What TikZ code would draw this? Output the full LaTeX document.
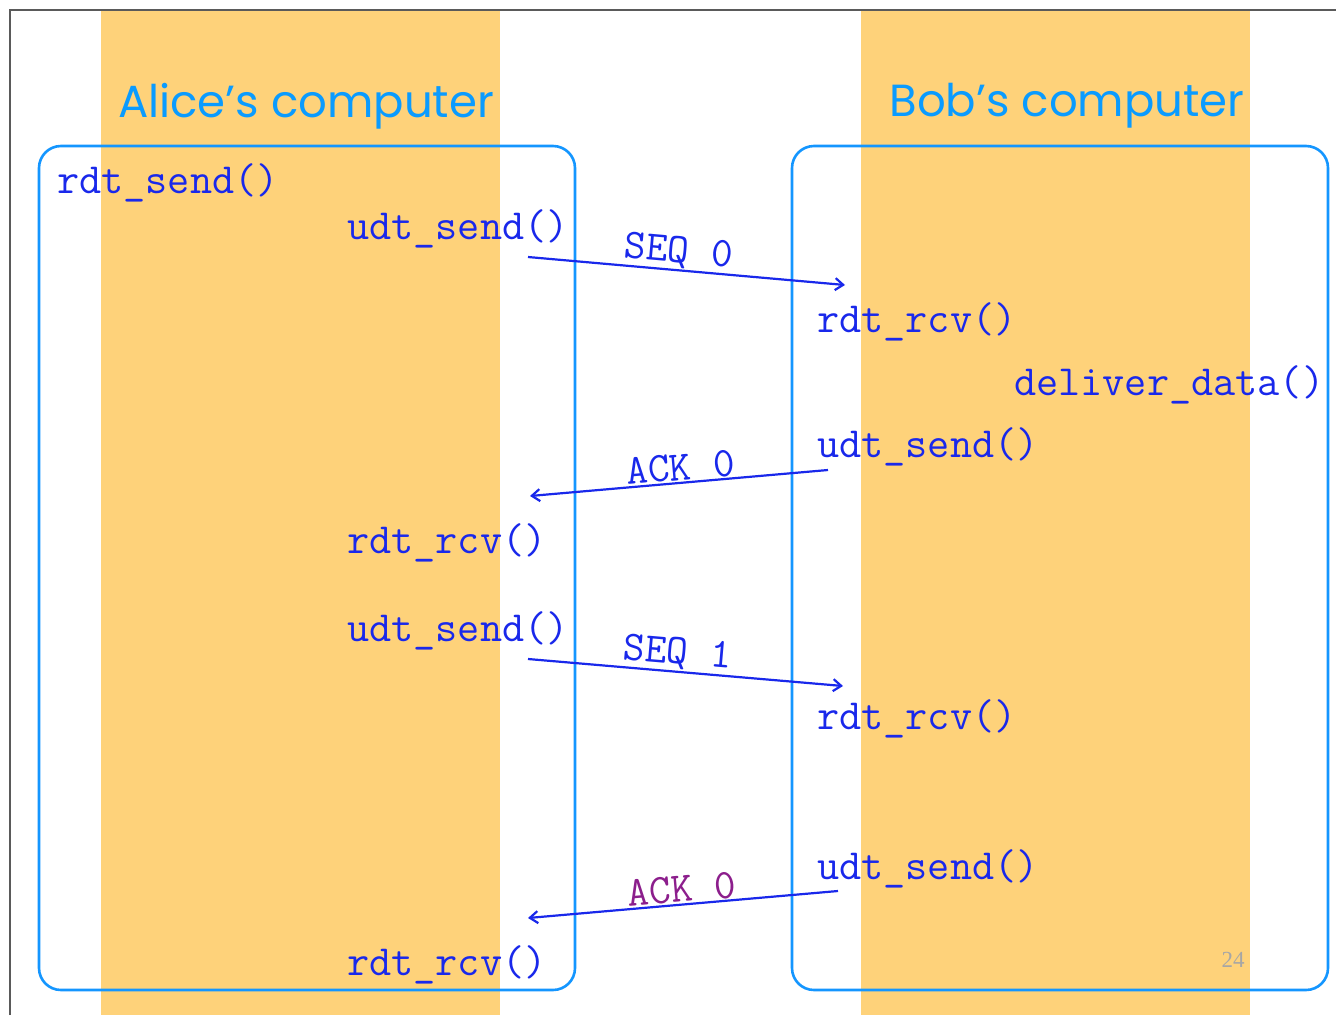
\documentclass[tikz,border=0pt]{standalone}
\usepackage{fontspec}
\newfontfamily\titlefont{Poppins}
\newfontfamily\pagefont{Liberation Serif}
\usetikzlibrary{arrows.meta}
\definecolor{bandc}{RGB}{254,210,122}
\definecolor{boxblue}{RGB}{20,150,255}
\definecolor{titleblue}{RGB}{10,155,255}
\definecolor{codeblue}{RGB}{25,40,235}
\definecolor{ackpurple}{RGB}{140,30,140}
\definecolor{framegray}{RGB}{90,90,90}
\begin{document}
\begin{tikzpicture}[x=1pt,y=-1pt,
  band/.style={fill=bandc, draw=none},
  comp/.style={draw=boxblue, line width=2.6pt, rounded corners=22pt},
  title/.style={font=\titlefont\fontsize{45}{45}\selectfont, text=titleblue, inner sep=0pt},
  code/.style={font=\ttfamily\fontsize{43}{43}\selectfont, text=codeblue, inner sep=0pt, anchor=base west},
  msg/.style={draw=codeblue, line width=2.2pt, -{Straight Barb[length=8pt,width=12pt]}},
  lbl/.style={font=\ttfamily\fontsize{42}{42}\selectfont, text=codeblue, inner sep=1pt, sloped, anchor=south},
  pagenum/.style={font=\pagefont\fontsize{23}{23}\selectfont, text=black!35, inner sep=0pt}
]
\useasboundingbox (0,0) rectangle (1336,1015);
\fill[white] (0,0) rectangle (1336,1015);
% bands
\path[band] (101,10) rectangle (500,1015);
\path[band] (861,10) rectangle (1250,1015);
% frame
\draw[framegray, line width=1.4pt] (10,1015) -- (10,10) -- (1336,10);
% computers
\draw[comp] (39,146) rectangle (575,990);
\draw[comp] (792,146) rectangle (1328,990);
\node[title] (alicet) at (306,106) {Alice’s computer};
\node[title] (bobt) at (1067,106) {Bob’s computer};
% Alice texts
\node[code] (ardtsend) at (57,193) {rdt\_send()};
\node[code] (audt1) at (347,239) {udt\_send()};
\node[code] (arcv1) at (347,553) {rdt\_rcv()};
\node[code] (audt2) at (347,641) {udt\_send()};
\node[code] (arcv2) at (347,975) {rdt\_rcv()};
% Bob texts
\node[code] (brcv1) at (817,332) {rdt\_rcv()};
\node[code] (bdel) at (1014,395) {deliver\_data()};
\node[code] (budt1) at (817,457) {udt\_send()};
\node[code] (brcv2) at (817,729) {rdt\_rcv()};
\node[code] (budt2) at (817,879) {udt\_send()};
\node[pagenum] (pg) at (1233,960) {24};
% arrows
\coordinate (s1) at (528,257);
\coordinate (r1) at (845,285);
\coordinate (k1s) at (828,470);
\coordinate (k1e) at (530,496);
\coordinate (s2) at (528,659);
\coordinate (r2) at (843,686);
\coordinate (k2s) at (838,891);
\coordinate (k2e) at (528,918);
\draw[msg] (s1) -- node[lbl, pos=0.47] (l1) {SEQ 0} (r1);
\draw[msg] (k1s) -- node[lbl, pos=0.49] (l2) {ACK 0} (k1e);
\draw[msg] (s2) -- node[lbl, pos=0.47] (l3) {SEQ 1} (r2);
\draw[msg] (k2s) -- node[lbl, pos=0.5, text=ackpurple] (l4) {ACK 0} (k2e);
\end{tikzpicture}
\end{document}
